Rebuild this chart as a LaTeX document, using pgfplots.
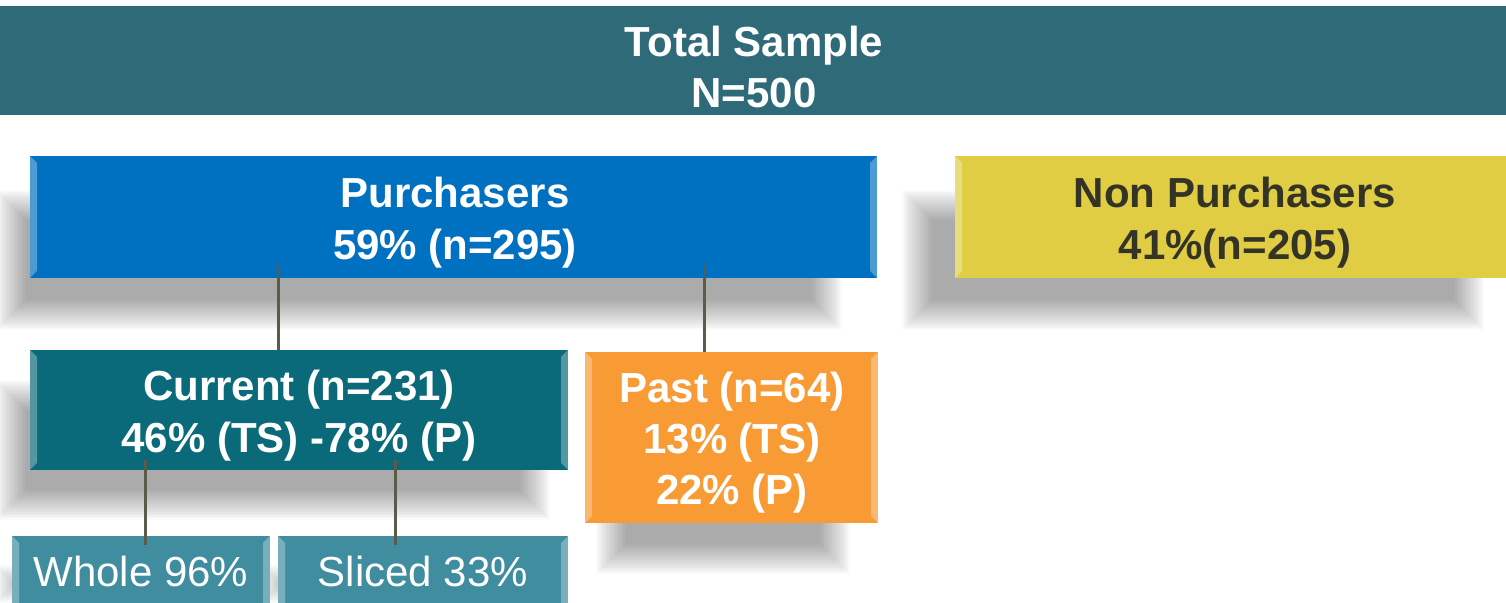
\documentclass[border=0pt]{standalone}
\usepackage{fontspec}
\setmainfont{Liberation Sans}
\usepackage{pgfplots}
\pgfplotsset{compat=1.18}
\definecolor{cHead}{HTML}{2E6A78}
\definecolor{cBlue}{HTML}{0070C0}
\definecolor{cYellow}{HTML}{E0CD44}
\definecolor{cDarkTxt}{HTML}{333326}
\definecolor{cCurrent}{HTML}{0B6A7A}
\definecolor{cPast}{HTML}{F99B35}
\definecolor{cLeaf}{HTML}{3F8D9F}
\definecolor{cLine}{HTML}{5B5B4B}

% soft shadow: stacked translucent rectangles, x1 y1 x2 y2 (outer extent)
\newcommand{\shadowrect}[4]{%
  \pgfplotsinvokeforeach{0,...,19}{%
    \fill[black, opacity=0.02] (axis cs:{#1+##1*1.6},{#2+##1*1.6}) rectangle (axis cs:{#3-##1*1.6},{#4-##1*1.6});
  }}
% bevelled side edges of a box
\newcommand{\bevel}[4]{%
  \fill[white, opacity=0.3] (axis cs:#1,#2) -- (axis cs:{#1+7},{#2+7}) -- (axis cs:{#1+7},{#4-7}) -- (axis cs:#1,#4) -- cycle;
  \fill[white, opacity=0.3] (axis cs:#3,#2) -- (axis cs:{#3-7},{#2+7}) -- (axis cs:{#3-7},{#4-7}) -- (axis cs:#3,#4) -- cycle;
}

\begin{document}
\begin{tikzpicture}
\begin{axis}[
  width=753pt, height=301.5pt, scale only axis,
  xmin=0, xmax=1506, ymin=0, ymax=603, y dir=reverse,
  hide axis, clip=true,
]
% shadows
\shadowrect{-4}{190}{842}{330}
\shadowrect{902}{190}{1484}{330}
\shadowrect{-4}{380}{550}{520}
\shadowrect{596}{380}{850}{574}
\shadowrect{-4}{565}{262}{603}
\shadowrect{262}{565}{562}{603}

% header bar
\addplot[fill=cHead, draw=none] coordinates {(0,6) (1506,6) (1506,115) (0,115)} -- cycle;
% level 1
\addplot[fill=cBlue, draw=none] coordinates {(30,156) (877,156) (877,278) (30,278)} -- cycle;
\addplot[fill=cYellow, draw=none] coordinates {(955,156) (1506,156) (1506,278) (955,278)} -- cycle;
% level 2
\addplot[fill=cCurrent, draw=none] coordinates {(30,350) (568,350) (568,470) (30,470)} -- cycle;
\addplot[fill=cPast, draw=none] coordinates {(585,352) (878,352) (878,523) (585,523)} -- cycle;
% level 3
\addplot[fill=cLeaf, draw=none] coordinates {(12,536) (270,536) (270,603) (12,603)} -- cycle;
\addplot[fill=cLeaf, draw=none] coordinates {(278,536) (568,536) (568,603) (278,603)} -- cycle;

\bevel{30}{156}{877}{278}
\bevel{955}{156}{1513}{278}
\bevel{30}{350}{568}{470}
\bevel{585}{352}{878}{523}
\bevel{12}{536}{270}{610}
\bevel{278}{536}{568}{610}

% connectors
\addplot[cLine, line width=1.5pt] coordinates {(278,265) (278,350)};
\addplot[cLine, line width=1.5pt] coordinates {(704,265) (704,352)};
\addplot[cLine, line width=1.5pt] coordinates {(145,460) (145,545)};
\addplot[cLine, line width=1.5pt] coordinates {(395,460) (395,545)};

% labels
\begin{scope}[every node/.style={anchor=base, inner sep=0pt, font=\fontsize{21}{26}\selectfont\bfseries}]
\node[white] at (axis cs:754,57) {Total Sample};
\node[white] at (axis cs:754,108) {N=500};
\node[white] at (axis cs:455,208) {Purchasers};
\node[white] at (axis cs:455,260) {59\% (n=295)};
\node[cDarkTxt] at (axis cs:1235,208) {Non Purchasers};
\node[cDarkTxt] at (axis cs:1235,260) {41\%(n=205)};
\node[white] at (axis cs:299,401) {Current (n=231)};
\node[white] at (axis cs:299,453) {46\% (TS) -78\% (P)};
\node[white] at (axis cs:732,403) {Past (n=64)};
\node[white] at (axis cs:732,454) {13\% (TS)};
\node[white] at (axis cs:732,505) {22\% (P)};
\node[white, font=\fontsize{21}{26}\selectfont] at (axis cs:141,587) {Whole 96\%};
\node[white, font=\fontsize{21}{26}\selectfont] at (axis cs:423,587) {Sliced 33\%};
\end{scope}
\end{axis}
\pgfresetboundingbox
\path (current axis.south west) rectangle (current axis.north east);
\end{tikzpicture}
\end{document}
